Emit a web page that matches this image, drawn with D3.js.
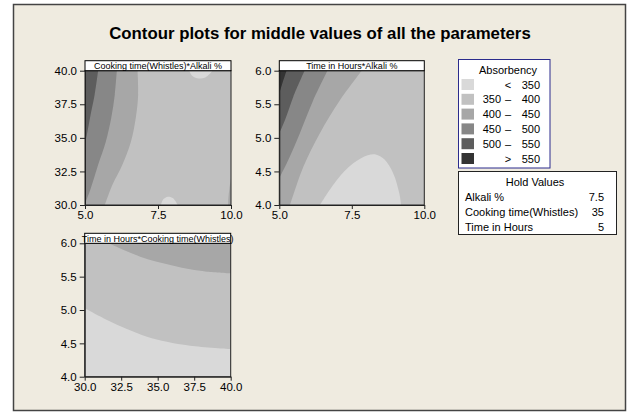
<!DOCTYPE html>
<html>
<head>
<meta charset="utf-8">
<script src="https://d3js.org/d3.v7.min.js"></script>
<style>
  body { margin: 0; background: #fff; }
  text { font-family: "Liberation Sans", Arial, sans-serif; fill: #000; }
</style>
</head>
<body>
<div id="vis"></div>
<script>
  // Absorbency bands, lightest to darkest
  const bandLow  = [null, 350, 400, 450, 500, 550]
  const bandHigh = [350, 400, 450, 500, 550, null]
  const bandFill = ['#d9d9d9', '#c1c1c1', '#a7a7a7', '#878787', '#5d5d5d', '#343434']

  // hold values table
  const holdNames  = ['Alkali %', 'Cooking time(Whistles)', 'Time in Hours']
  const holdValues = ['7.5', '35', '5']

  // tick labels
  const alkaliTicks  = [5.0, 7.5, 10.0]
  const cookingTicks = [30.0, 32.5, 35.0, 37.5, 40.0]
  const hoursTicks   = [4.0, 4.5, 5.0, 5.5, 6.0]

  // contour boundaries (data units)
  // panel 1 : Cooking time (y) vs Alkali % (x)
  const p1Edge400 = [[6.80,40],[6.82,38.2],[6.74,36.5],[6.57,34.7],[6.28,33.0],[5.94,31.5],[5.68,30]]
  const p1Edge450 = [[6.09,40],[6.02,38.2],[5.90,36.5],[5.71,34.7],[5.45,33.0],[5.19,31.2],[5.0,30.1]]
  const p1Edge500 = [[5.45,40],[5.33,38.2],[5.19,36.7],[5.06,35.2],[5.0,34.6]]
  const p1LowTop  = [[8.57,40],[8.68,39.6],[8.9,39.42],[9.12,39.5],[9.37,40]]
  const p1LowBot  = [[7.6,30],[7.68,30.42],[7.84,30.62],[8.02,30.5],[8.17,30]]
  const p1Right   = [[10,32.0],[9.95,31.3],[9.91,30.5],[9.9,30]]

  // panel 2 : Time in Hours (y) vs Alkali % (x)
  const p2Edge400 = [[7.84,6],[7.09,5.56],[6.40,5.07],[5.83,4.57],[5.37,4.0]]
  const p2Edge450 = [[6.66,6],[6.17,5.56],[5.71,5.07],[5.31,4.67],[5.0,4.40]]
  const p2Edge500 = [[5.87,6],[5.48,5.61],[5.20,5.27],[5.0,5.07]]
  const p2Edge550 = [[5.25,6],[5.12,5.83],[5.0,5.66]]
  const p2Low     = [[6.40,4],[6.98,4.37],[7.55,4.62],[8.05,4.74],[8.35,4.75],[8.62,4.68],[8.93,4.47],[9.14,4.17],[9.2,4]]

  // panel 3 : Time in Hours (y) vs Cooking time (x)
  const p3Edge400 = [[31.64,6],[32.67,5.9],[33.8,5.8],[34.94,5.725],[36.08,5.665],[37.22,5.61],[38.36,5.575],[40,5.55]]
  const p3Edge350 = [[30,5.025],[31.53,4.85],[32.89,4.715],[34.26,4.6],[35.63,4.525],[37.22,4.465],[40,4.415]]

  var svg = d3.select('#vis').append('svg')
    .attr('width', 630).attr('height', 412)

  svg.append('rect')
    .attr('x', 13.5).attr('y', 4.5).attr('width', 612).attr('height', 406)
    .attr('fill', '#efebe0').attr('stroke', '#444').attr('stroke-width', 1.5)

  svg.append('text')
    .attr('x', 320).attr('y', 39)
    .attr('text-anchor', 'middle')
    .style('font-size', '16.8px').style('font-weight', 'bold')
    .text('Contour plots for middle values of all the parameters')

  function panel(opt) {
    var x = d3.scaleLinear().domain(opt.xd).range([opt.left, opt.left + opt.w])
    var y = d3.scaleLinear().domain(opt.yd).range([opt.top + opt.h, opt.top])
    var g = svg.append('g')
    var clipId = 'clip' + opt.id
    g.append('clipPath').attr('id', clipId).append('rect')
      .attr('x', opt.left).attr('y', opt.top).attr('width', opt.w).attr('height', opt.h)

    var area = g.append('g').attr('clip-path', 'url(#' + clipId + ')')
    area.append('rect')
      .attr('x', opt.left).attr('y', opt.top).attr('width', opt.w).attr('height', opt.h)
      .attr('fill', bandFill[opt.base])

    var curve = d3.line().x(d => x(d[0])).y(d => y(d[1])).curve(d3.curveCatmullRom)
    opt.regions.forEach(function(r) {
      var d = curve(r.pts)
      r.close.forEach(function(c) { d += 'L' + x(c[0]) + ',' + y(c[1]) })
      area.append('path').attr('d', d + 'Z').attr('fill', bandFill[r.band])
    })

    g.append('rect')
      .attr('x', opt.left).attr('y', opt.top).attr('width', opt.w).attr('height', opt.h)
      .attr('fill', 'none').attr('stroke', '#222').attr('stroke-width', 1)

    var ax = g.append('g').attr('transform', 'translate(0,' + (opt.top + opt.h) + ')')
      .call(d3.axisBottom(x).tickValues(opt.xt).tickFormat(d3.format('.1f')).tickSize(4).tickSizeOuter(0).tickPadding(2))
    var ay = g.append('g').attr('transform', 'translate(' + opt.left + ',0)')
      .call(d3.axisLeft(y).tickValues(opt.yt).tickFormat(d3.format('.1f')).tickSize(5).tickSizeOuter(0).tickPadding(3))
    ;[ax, ay].forEach(function(a) {
      a.select('.domain').attr('stroke', '#222')
      a.selectAll('line').attr('stroke', '#222')
      a.selectAll('text').style('font-size', '11.5px').style('font-family', '"Liberation Sans", Arial, sans-serif')
    })

    g.append('rect')
      .attr('x', opt.left).attr('y', opt.top - 10).attr('width', opt.w).attr('height', 10)
      .attr('fill', '#fff').attr('stroke', '#000').attr('stroke-width', 1)
    g.append('text')
      .attr('x', opt.left + opt.w / 2).attr('y', opt.top - 1.8)
      .attr('text-anchor', 'middle').style('font-size', '9px')
      .text(opt.title)
  }

  panel({
    id: 1, left: 85, top: 70.7, w: 146, h: 134.3,
    xd: [5, 10], yd: [30, 40], xt: alkaliTicks, yt: cookingTicks,
    title: 'Cooking time(Whistles)*Alkali  %', base: 1,
    regions: [
      { band: 2, pts: p1Edge400, close: [[5, 30], [5, 40]] },
      { band: 3, pts: p1Edge450, close: [[5, 30], [5, 40]] },
      { band: 4, pts: p1Edge500, close: [[5, 40]] },
      { band: 0, pts: p1LowTop, close: [] },
      { band: 0, pts: p1LowBot, close: [] },
      { band: 2, pts: p1Right, close: [[10, 30]] }
    ]
  })

  panel({
    id: 2, left: 279.3, top: 70.7, w: 145, h: 134.3,
    xd: [5, 10], yd: [4, 6], xt: alkaliTicks, yt: hoursTicks,
    title: 'Time in Hours*Alkali  %', base: 1,
    regions: [
      { band: 2, pts: p2Edge400, close: [[5, 4], [5, 6]] },
      { band: 3, pts: p2Edge450, close: [[5, 6]] },
      { band: 4, pts: p2Edge500, close: [[5, 6]] },
      { band: 5, pts: p2Edge550, close: [[5, 6]] },
      { band: 0, pts: p2Low, close: [] }
    ]
  })

  panel({
    id: 3, left: 84.7, top: 243.3, w: 146, h: 133.4,
    xd: [30, 40], yd: [4, 6], xt: cookingTicks, yt: hoursTicks,
    title: 'Time in Hours*Cooking time(Whistles)', base: 1,
    regions: [
      { band: 2, pts: p3Edge400, close: [[40, 6]] },
      { band: 0, pts: p3Edge350, close: [[40, 4], [30, 4]] }
    ]
  })

  // legend
  var leg = svg.append('g')
  leg.append('rect')
    .attr('x', 458.5).attr('y', 59.5).attr('width', 91.5).attr('height', 108.5)
    .attr('fill', '#fff').attr('stroke', '#2b2b8c').attr('stroke-width', 1)
  leg.append('text').attr('x', 508).attr('y', 74)
    .attr('text-anchor', 'middle').style('font-size', '11px').text('Absorbency')
  bandFill.forEach(function(c, i) {
    var cy = 84.5 + i * 14.8
    leg.append('rect').attr('x', 461.5).attr('y', cy - 5.5).attr('width', 12.5).attr('height', 11).attr('fill', c)
    var ty = cy + 4
    if (bandLow[i] === null) {
      leg.append('text').attr('x', 508).attr('y', ty).attr('text-anchor', 'middle').style('font-size', '11px').text('<')
      leg.append('text').attr('x', 540).attr('y', ty).attr('text-anchor', 'end').style('font-size', '11px').text(bandHigh[i])
    } else if (bandHigh[i] === null) {
      leg.append('text').attr('x', 508).attr('y', ty).attr('text-anchor', 'middle').style('font-size', '11px').text('>')
      leg.append('text').attr('x', 540).attr('y', ty).attr('text-anchor', 'end').style('font-size', '11px').text(bandLow[i])
    } else {
      leg.append('text').attr('x', 501).attr('y', ty).attr('text-anchor', 'end').style('font-size', '11px').text(bandLow[i])
      leg.append('text').attr('x', 508).attr('y', ty).attr('text-anchor', 'middle').style('font-size', '11px').text('\u2013')
      leg.append('text').attr('x', 540).attr('y', ty).attr('text-anchor', 'end').style('font-size', '11px').text(bandHigh[i])
    }
  })

  // hold values
  var hold = svg.append('g')
  hold.append('rect')
    .attr('x', 458.5).attr('y', 171.5).attr('width', 158).attr('height', 63)
    .attr('fill', '#fff').attr('stroke', '#222').attr('stroke-width', 1)
  hold.append('text').attr('x', 535).attr('y', 185.5)
    .attr('text-anchor', 'middle').style('font-size', '11px').text('Hold Values')
  holdNames.forEach(function(n, i) {
    var ty = 200.5 + i * 15
    hold.append('text').attr('x', 465).attr('y', ty).style('font-size', '11px').text(n)
    hold.append('text').attr('x', 604).attr('y', ty).attr('text-anchor', 'end').style('font-size', '11px').text(holdValues[i])
  })
</script>
</body>
</html>
